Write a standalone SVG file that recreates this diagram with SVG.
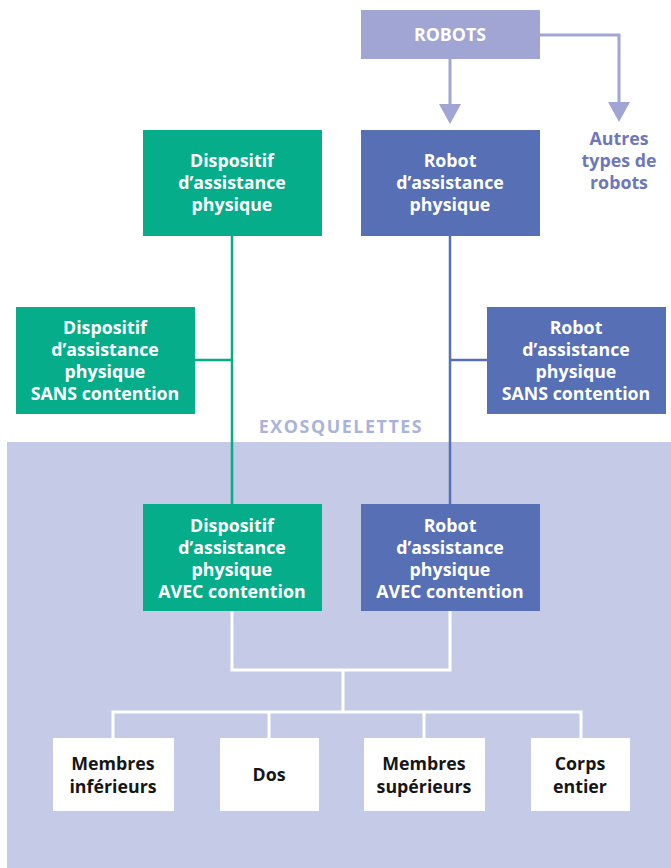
<svg xmlns="http://www.w3.org/2000/svg" width="671" height="868" viewBox="0 0 671 868">
  <style>
    .t { font-family: "Open Sans", "Liberation Sans", sans-serif; font-weight: 700; font-size: 17.8px; text-anchor: middle; }
    .w { fill: #ffffff; }
    .d { fill: #161616; }
    .green { fill: #05ad8a; }
    .blue { fill: #566fb5; }
    .pale { fill: #a1a5d3; }
    .part { fill: #ffffff; }
    .head { fill: #a1a5d3; }
  </style>

  <!-- exoskeleton zone -->
  <rect x="7" y="442" width="664" height="426" fill="#c5cbe7"/>
  <text class="t" x="341" y="433" fill="#a9b3dc" font-size="18.5" letter-spacing="1.6">EXOSQUELETTES</text>

  <!-- connectors -->
  <g id="connectors" fill="none">
    <path d="M450,59 V106" stroke="#a1a5d3" stroke-width="3"/>
    <polygon class="head" points="439,104 461,104 450,124"/>
    <path d="M540,35 H619 V104" stroke="#a1a5d3" stroke-width="3"/>
    <polygon class="head" points="608,102 630,102 619,122"/>
    <path d="M232,236 V504 M195,360 H232" stroke="#05ad8a" stroke-width="2.5"/>
    <path d="M450,236 V504 M450,360 H487" stroke="#566fb5" stroke-width="2.5"/>
    <path d="M232,610 V670 H450 V610 M343,670 V712 M113,738 V712 H581 V738 M269,712 V738 M424,712 V738" stroke="#ffffff" stroke-width="3"/>
  </g>

  <g id="robots">
    <rect class="pale" x="361" y="10" width="179" height="49"/>
    <text class="t w" x="450" y="41">ROBOTS</text>
  </g>

  <g id="autres">
    <text class="t" fill="#6f77bb" x="619" y="145">Autres</text>
    <text class="t" fill="#6f77bb" x="619" y="167">types de</text>
    <text class="t" fill="#6f77bb" x="619" y="189">robots</text>
  </g>

  <g id="dispositif">
    <rect class="green" x="143" y="130" width="179" height="106"/>
    <text class="t w" x="232" y="167">Dispositif</text>
    <text class="t w" x="232" y="189">d’assistance</text>
    <text class="t w" x="232" y="211">physique</text>
  </g>

  <g id="robot-assistance">
    <rect class="blue" x="361" y="130" width="179" height="106"/>
    <text class="t w" x="450" y="167">Robot</text>
    <text class="t w" x="450" y="189">d’assistance</text>
    <text class="t w" x="450" y="211">physique</text>
  </g>

  <g id="dispositif-sans">
    <rect class="green" x="16" y="307" width="179" height="107"/>
    <text class="t w" x="105" y="334">Dispositif</text>
    <text class="t w" x="105" y="356">d’assistance</text>
    <text class="t w" x="105" y="378">physique</text>
    <text class="t w" x="105" y="400">SANS contention</text>
  </g>

  <g id="robot-sans">
    <rect class="blue" x="487" y="307" width="179" height="107"/>
    <text class="t w" x="576" y="334">Robot</text>
    <text class="t w" x="576" y="356">d’assistance</text>
    <text class="t w" x="576" y="378">physique</text>
    <text class="t w" x="576" y="400">SANS contention</text>
  </g>

  <g id="dispositif-avec">
    <rect class="green" x="143" y="504" width="179" height="107"/>
    <text class="t w" x="232" y="532">Dispositif</text>
    <text class="t w" x="232" y="554">d’assistance</text>
    <text class="t w" x="232" y="576">physique</text>
    <text class="t w" x="232" y="598">AVEC contention</text>
  </g>

  <g id="robot-avec">
    <rect class="blue" x="361" y="504" width="179" height="107"/>
    <text class="t w" x="450" y="532">Robot</text>
    <text class="t w" x="450" y="554">d’assistance</text>
    <text class="t w" x="450" y="576">physique</text>
    <text class="t w" x="450" y="598">AVEC contention</text>
  </g>

  <g id="membres-inferieurs">
    <rect class="part" x="53" y="738" width="121" height="73"/>
    <text class="t d" x="113" y="770">Membres</text>
    <text class="t d" x="113" y="793">inférieurs</text>
  </g>

  <g id="dos">
    <rect class="part" x="220" y="738" width="99" height="73"/>
    <text class="t d" x="269" y="781">Dos</text>
  </g>

  <g id="membres-superieurs">
    <rect class="part" x="364" y="738" width="121" height="73"/>
    <text class="t d" x="424" y="770">Membres</text>
    <text class="t d" x="424" y="793">supérieurs</text>
  </g>

  <g id="corps-entier">
    <rect class="part" x="531" y="738" width="99" height="73"/>
    <text class="t d" x="580" y="770">Corps</text>
    <text class="t d" x="580" y="793">entier</text>
  </g>
</svg>
